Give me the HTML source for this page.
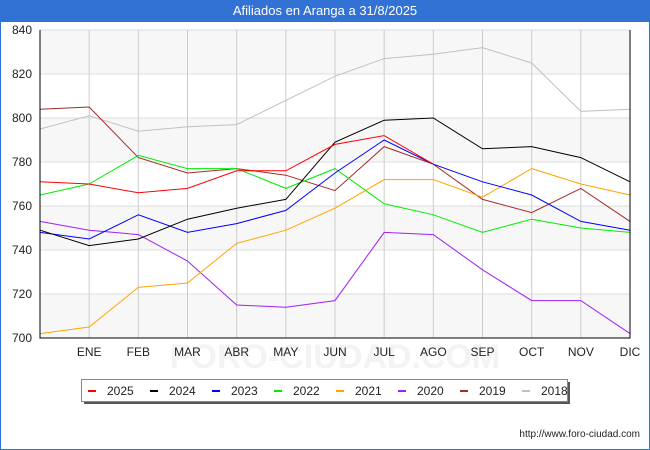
<!DOCTYPE html>
<html><head><meta charset="utf-8"><style>
body{margin:0;width:650px;height:450px;overflow:hidden;font-family:"Liberation Sans","DejaVu Sans",sans-serif;background:#fff}
#frame{position:absolute;left:0;top:0;width:648px;height:449px;border:1px solid #3272d4;border-top:none}
#title{position:absolute;left:0;top:0;width:650px;height:22px;background:#3272d4;color:#fff;font-size:13px;text-align:center;line-height:22px}
svg{position:absolute;left:0;top:0}
</style></head><body>
<div id="frame"></div>
<div id="title">Afiliados en Aranga a 31/8/2025</div>
<svg id="chart" width="650" height="450"></svg>
<script>
const months=["","ENE","FEB","MAR","ABR","MAY","JUN","JUL","AGO","SEP","OCT","NOV","DIC"];
const yTicks=[700,720,740,760,780,800,820,840];
const seriesNames=["2025","2024","2023","2022","2021","2020","2019","2018"];
const seriesColors=["#ff0000","#000000","#0000ff","#00ee00","#ffa500","#a020f0","#a52a2a","#c0c0c0"];
const s2025=[771,770,766,768,776,776,788,792,779];
const s2024=[749,742,745,754,759,763,789,799,800,786,787,782,771];
const s2023=[748,745,756,748,752,758,775,790,779,771,765,753,749];
const s2022=[765,770,783,777,777,768,777,761,756,748,754,750,748];
const s2021=[702,705,723,725,743,749,759,772,772,764,777,770,765];
const s2020=[753,749,747,735,715,714,717,748,747,731,717,717,702];
const s2019=[804,805,782,775,777,774,767,787,779,763,757,768,753];
const s2018=[795,801,794,796,797,808,819,827,829,832,825,803,804];
const allSeries=[s2025,s2024,s2023,s2022,s2021,s2020,s2019,s2018];
const L=40,R=630,T=30,B=338,ymin=700,ymax=840;
const xs=i=>L+i*(R-L)/12;
const ys=v=>B-(v-ymin)*(B-T)/(ymax-ymin);
const svg=document.getElementById('chart');
const NS="http://www.w3.org/2000/svg";
function mk(tag,attrs,parent){const e=document.createElementNS(NS,tag);for(const k in attrs)e.setAttribute(k,attrs[k]);(parent||svg).appendChild(e);return e;}
[[820,840],[780,800],[740,760],[700,720]].forEach(p=>{
  const b=mk('rect',{x:L,y:ys(p[1]),width:R-L,height:ys(p[0])-ys(p[1]),fill:'#f7f7f7'});
  
  
});
const wm=mk('text',{x:335,y:368,'text-anchor':'middle','font-size':34,fill:'#f3f3f3','font-weight':'bold'});
wm.textContent='FORO-CIUDAD.COM';


yTicks.forEach(v=>{
  const g=mk('line',{x1:L,x2:R,y1:ys(v),y2:ys(v),stroke:'#dddddd','stroke-width':1});
  
  
  const t=mk('text',{x:32,y:ys(v)+4,'text-anchor':'end','font-size':12,fill:'#222'});
  t.textContent=v;
  
  
});
months.forEach((m,i)=>{
  if(i>0&&i<12){const g=mk('line',{x1:xs(i),x2:xs(i),y1:T,y2:B,stroke:'#cccccc','stroke-width':1});
  
  }
  if(m){const t=mk('text',{x:xs(i),y:356,'text-anchor':'middle','font-size':12,fill:'#222'});
  t.textContent=m;
  
  }
});
for(let s=allSeries.length-1;s>=0;s--){
  const pts=allSeries[s].map((v,i)=>xs(i)+','+ys(v)).join(' ');
  const pl=mk('polyline',{points:pts,fill:'none',stroke:seriesColors[s],'stroke-width':1});
  
  
}
const ax=mk('path',{d:`M${L} ${T}V${B}H${R}V${T}`,fill:'none',stroke:'#000','stroke-width':1});


const ls=mk('rect',{x:84,y:382,width:486,height:22,fill:'#555'});


const lb=mk('rect',{x:81.5,y:379.5,width:486,height:22,fill:'#fff',stroke:'#888'});


seriesNames.forEach((n,i)=>{
  const x0=88+i*62;
  const sw=mk('line',{x1:x0,x2:x0+8,y1:391,y2:391,stroke:seriesColors[i],'stroke-width':2});
  
  
  const t=mk('text',{x:x0+19,y:395,'font-size':12,fill:'#222'});
  t.textContent=n;
  
  
});
const url=mk('text',{x:640,y:437,'text-anchor':'end','font-size':10,fill:'#222'});
url.textContent='http://www.foro-ciudad.com';


</script>
</body></html>
